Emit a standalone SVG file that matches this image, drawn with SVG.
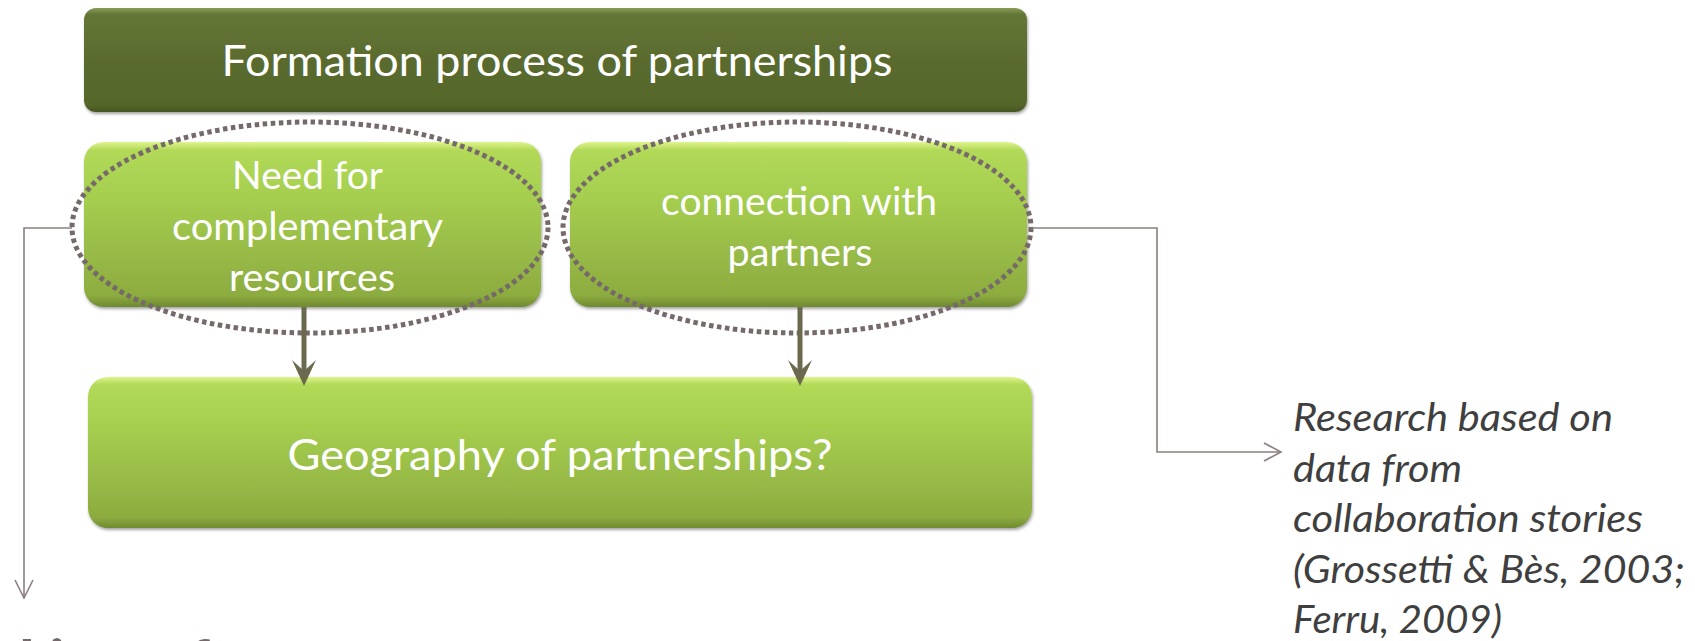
<svg xmlns="http://www.w3.org/2000/svg" width="1695" height="641" viewBox="0 0 1695 641">
  <defs>
    <linearGradient id="gDark" x1="0" y1="0" x2="0" y2="1">
      <stop offset="0" stop-color="#8a9c58"/>
      <stop offset="0.06" stop-color="#647636"/>
      <stop offset="0.5" stop-color="#5a6b2e"/>
      <stop offset="0.93" stop-color="#55662b"/>
      <stop offset="1" stop-color="#46551f"/>
    </linearGradient>
    <linearGradient id="gLight" x1="0" y1="0" x2="0" y2="1">
      <stop offset="0" stop-color="#dff58c"/>
      <stop offset="0.05" stop-color="#b2d958"/>
      <stop offset="0.3" stop-color="#a7d050"/>
      <stop offset="0.93" stop-color="#8dac40"/>
      <stop offset="1" stop-color="#6f8a30"/>
    </linearGradient>
    <filter id="shadow" x="-5%" y="-10%" width="110%" height="125%">
      <feDropShadow dx="1" dy="2" stdDeviation="1.5" flood-color="#333" flood-opacity="0.45"/>
    </filter>
  </defs>
  <style>
    .dark { fill: url(#gDark); filter: url(#shadow); }
    .light { fill: url(#gLight); filter: url(#shadow); }
    .lbl { font-family: Lato, "Open Sans", "Liberation Sans", sans-serif; fill: #ffffff; text-anchor: middle; }
    .dotted { fill: none; stroke: #76696a; stroke-width: 5; stroke-dasharray: 4.5 3.5; }
    .thin { fill: none; stroke: #8b7f7f; stroke-width: 1.6; }
    .thick { fill: none; stroke: #6b6a4e; stroke-width: 5; }
    .head { fill: #6b6a4e; }
    .note { font-family: Lato, "Open Sans", "Liberation Sans", sans-serif; font-style: italic; font-size: 38px; fill: #3f3f3f; }
    .cut { font-family: Lato, "Open Sans", "Liberation Sans", sans-serif; font-weight: bold; font-size: 58px; fill: #76696a; }
  </style>

  <g id="node-formation">
    <rect class="dark" x="84" y="8" width="943" height="104" rx="12"/>
    <text class="lbl" x="557" y="76" font-size="43" textLength="671" lengthAdjust="spacingAndGlyphs">Formation process of partnerships</text>
  </g>

  <g id="node-need">
    <rect class="light" x="84" y="142" width="457" height="165" rx="20"/>
    <text class="lbl" font-size="38">
      <tspan x="312" y="189" textLength="150" lengthAdjust="spacingAndGlyphs">Need for</tspan>
      <tspan x="312" y="240" textLength="270" lengthAdjust="spacingAndGlyphs">complementary</tspan>
      <tspan x="312" y="291" textLength="166" lengthAdjust="spacingAndGlyphs">resources</tspan>
    </text>
  </g>

  <g id="node-connection">
    <rect class="light" x="570" y="142" width="457" height="165" rx="20"/>
    <text class="lbl" font-size="38">
      <tspan x="804" y="215" textLength="276" lengthAdjust="spacingAndGlyphs">connection with</tspan>
      <tspan x="800" y="266" textLength="145" lengthAdjust="spacingAndGlyphs">partners</tspan>
    </text>
  </g>

  <g id="node-geography">
    <rect class="light" x="88" y="377" width="944" height="151" rx="20"/>
    <text class="lbl" x="560" y="470" font-size="43" textLength="545" lengthAdjust="spacingAndGlyphs">Geography of partnerships?</text>
  </g>

  <g id="groups">
    <ellipse class="dotted" cx="310" cy="227.5" rx="238" ry="105.5"/>
    <ellipse class="dotted" cx="797" cy="227.5" rx="234" ry="105.5"/>
  </g>

  <g id="connectors">
    <line class="thick" x1="304" y1="307" x2="304" y2="374"/>
    <path class="head" d="M292,360 L304,386 L316,360 L304,371 Z"/>
    <line class="thick" x1="800" y1="307" x2="800" y2="374"/>
    <path class="head" d="M788,360 L800,386 L812,360 L800,371 Z"/>

    <path class="thin" d="M72,228 H24 V597"/>
    <path class="thin" d="M15,580 L24,598 L33,580"/>
    <path class="thin" d="M1031,228 H1157 V452 H1280"/>
    <path class="thin" d="M1264,443 L1281,452 L1264,461"/>
  </g>

  <g id="note">
    <text class="note">
      <tspan x="1293" y="431" textLength="320" lengthAdjust="spacingAndGlyphs">Research based on</tspan>
      <tspan x="1293" y="482" textLength="169" lengthAdjust="spacingAndGlyphs">data from</tspan>
      <tspan x="1293" y="532" textLength="350" lengthAdjust="spacingAndGlyphs">collaboration stories</tspan>
      <tspan x="1293" y="583" textLength="392" lengthAdjust="spacingAndGlyphs">(Grossetti &amp; Bès, 2003;</tspan>
      <tspan x="1293" y="633" textLength="209" lengthAdjust="spacingAndGlyphs">Ferru, 2009)</tspan>
    </text>
  </g>

  <g id="cut-title">
    <text class="cut" x="18" y="681" textLength="192" lengthAdjust="spacingAndGlyphs">Lists of</text>
  </g>
</svg>
